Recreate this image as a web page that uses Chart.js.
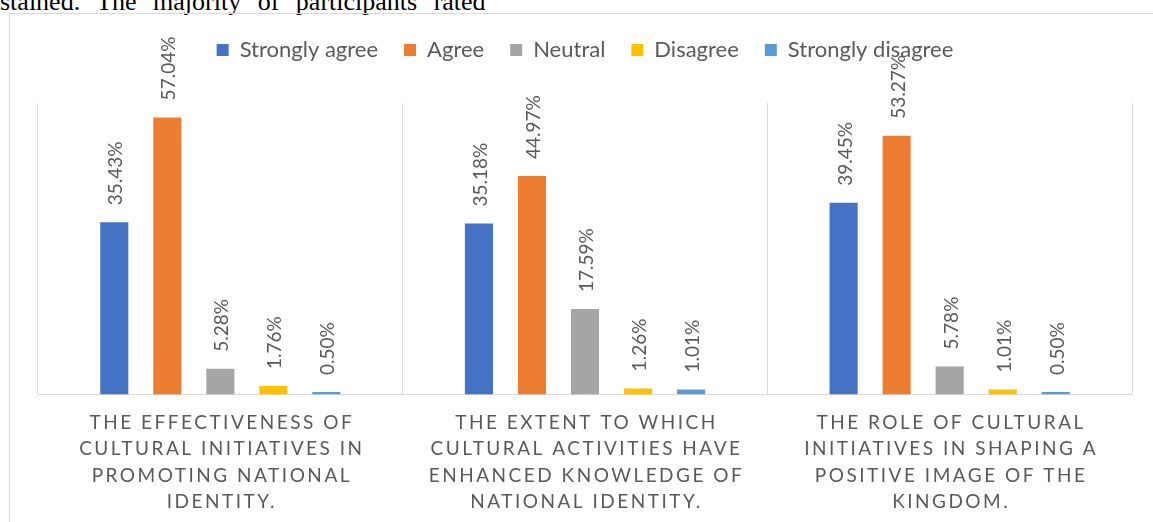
<!DOCTYPE html>
<html>
<head>
<meta charset="utf-8">
<title>Cultural initiatives survey</title>
<script src="https://cdn.jsdelivr.net/npm/chart.js@4.4.1/dist/chart.umd.min.js"></script>
<style>
  html, body { margin: 0; padding: 0; background: #fff; }
  body { width: 1153px; height: 522px; position: relative; overflow: hidden; }
  #docText {
    position: absolute; left: 0; top: -11px;
    font: 26px "Liberation Serif", serif; line-height: 26px;
    word-spacing: 10px; white-space: nowrap; color: #000;
  }
  #frame {
    position: absolute; left: 9px; top: 13px; right: 0; bottom: 0;
    border-left: 1px solid #d9d9d9; border-top: 1px solid #d9d9d9;
  }
  #wrap { position: absolute; left: 0; top: 0; width: 1153px; height: 522px; }
</style>
</head>
<body>
<div id="docText">stained. The majority of participants rated</div>
<div id="frame"></div>
<div id="wrap"><canvas id="chart"></canvas></div>
<script>
// categories (as shown, wrapped in lines)
const categories = [
  ["THE EFFECTIVENESS OF", "CULTURAL INITIATIVES IN", "PROMOTING NATIONAL", "IDENTITY."],
  ["THE EXTENT TO WHICH", "CULTURAL ACTIVITIES HAVE", "ENHANCED KNOWLEDGE OF", "NATIONAL IDENTITY."],
  ["THE ROLE OF CULTURAL", "INITIATIVES IN SHAPING A", "POSITIVE IMAGE OF THE", "KINGDOM."],
];

const seriesNames = ["Strongly agree", "Agree", "Neutral", "Disagree", "Strongly disagree"];
const seriesColors = ["#4472C4", "#ED7D31", "#A5A5A5", "#FFC000", "#5B9BD5"];

// percentages
const stronglyAgree = [35.43, 35.18, 39.45];
const agree = [57.04, 44.97, 53.27];
const neutral = [5.28, 17.59, 5.78];
const disagree = [1.76, 1.26, 1.01];
const stronglyDisagree = [0.5, 1.01, 0.5];

const seriesValues = [stronglyAgree, agree, neutral, disagree, stronglyDisagree];
const yMax = 60;

const textGray = "#595959";
const lineGray = "#d9d9d9";

// extra space between legend and plot
const legendSpacing = {
  id: "legendSpacing",
  beforeInit(chart) {
    const fit = chart.legend.fit;
    chart.legend.fit = function () {
      fit.bind(chart.legend)();
      this.height += 32;
    };
  },
};

// rotated value labels above bars
const barLabels = {
  id: "barLabels",
  afterDatasetsDraw(chart) {
    const ctx = chart.ctx;
    ctx.save();
    ctx.font = "19px Lato";
    ctx.fillStyle = textGray;
    ctx.textAlign = "left";
    ctx.textBaseline = "alphabetic";
    chart.data.datasets.forEach((ds, i) => {
      chart.getDatasetMeta(i).data.forEach((bar, j) => {
        ctx.save();
        ctx.translate(bar.x + 8, bar.y - 17);
        ctx.rotate(-Math.PI / 2);
        ctx.fillText(ds.data[j].toFixed(2) + "%", 0, 0);
        ctx.restore();
      });
    });
    ctx.restore();
  },
};

// category labels with letter spacing
const categoryLabels = {
  id: "categoryLabels",
  afterDraw(chart) {
    const ctx = chart.ctx;
    const xScale = chart.scales.x;
    ctx.save();
    ctx.font = "19px Lato";
    ctx.fillStyle = textGray;
    ctx.textAlign = "center";
    ctx.textBaseline = "alphabetic";
    ctx.letterSpacing = "2.5px";
    chart.data.labels.forEach((lines, i) => {
      const x = xScale.getPixelForValue(i);
      lines.forEach((line, k) => {
        ctx.fillText(line, x + 1.5, xScale.bottom + 34.5 + k * 26.3);
      });
    });
    ctx.restore();
  },
};

const ctx = document.getElementById("chart").getContext("2d");
const chart = new Chart(ctx, {
  type: "bar",
  data: {
    labels: categories,
    datasets: seriesNames.map((name, i) => ({
      label: name,
      data: seriesValues[i],
      backgroundColor: seriesColors[i],
      borderWidth: 0,
      categoryPercentage: 0.727,
      barPercentage: 0.53,
    })),
  },
  options: {
    responsive: true,
    maintainAspectRatio: false,
    animation: false,
    layout: {
      padding: { left: 38, right: 21, top: 13, bottom: 127.5 },
    },
    plugins: {
      legend: {
        display: true,
        position: "top",
        labels: {
          color: textGray,
          boxWidth: 12,
          boxHeight: 12,
          padding: 26,
          font: { size: 22, family: "Lato" },
        },
      },
      tooltip: { enabled: false },
    },
    scales: {
      x: {
        grid: {
          color: lineGray,
          lineWidth: 1,
          drawTicks: false,
          offset: true,
        },
        border: { display: true, color: lineGray, width: 1 },
        ticks: { display: false },
      },
      y: {
        display: false,
        min: 0,
        max: yMax,
      },
    },
  },
  plugins: [legendSpacing, barLabels, categoryLabels],
});
</script>
</body>
</html>
